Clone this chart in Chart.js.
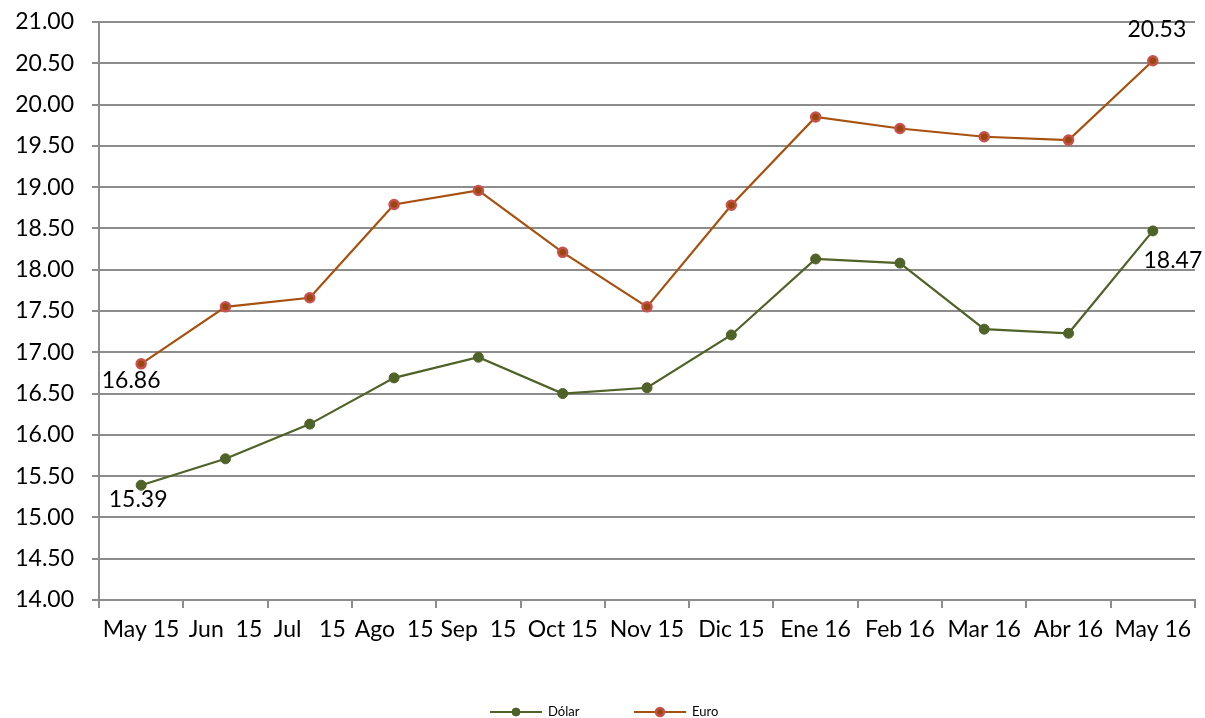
<!DOCTYPE html>
<html>
<head>
<meta charset="utf-8">
<script src="https://cdn.jsdelivr.net/npm/chart.js@4/dist/chart.umd.min.js"></script>
<style>
    html, body { margin: 0; padding: 0; background: #fff; }
    #wrap { width: 1205px; height: 718px; position: relative; }
</style>
</head>
<body>
<div id="wrap"><canvas id="fxChart"></canvas></div>
<script>
// Categories (x axis)
const months = ['May 15', 'Jun  15', 'Jul   15', 'Ago  15', 'Sep  15', 'Oct 15', 'Nov 15',
    'Dic 15', 'Ene 16', 'Feb 16', 'Mar 16', 'Abr 16', 'May 16'];

// Series values
const dolar = [15.39, 15.71, 16.13, 16.69, 16.94, 16.50, 16.57, 17.21, 18.13, 18.08, 17.28, 17.23, 18.47];
const euro = [16.86, 17.55, 17.66, 18.79, 18.96, 18.21, 17.55, 18.78, 19.85, 19.71, 19.61, 19.57, 20.53];

// Y axis range
const yMin = 14;
const yMax = 21;
const yStep = 0.5;

const FONT = 'Lato, "Open Sans", sans-serif';

// Data labels on first and last points only
const endLabels = {
    id: 'endLabels',
    afterDatasetsDraw(chart) {
        const ctx = chart.ctx;
        ctx.save();
        ctx.font = '23px ' + FONT;
        ctx.fillStyle = '#000';
        ctx.textAlign = 'center';
        ctx.textBaseline = 'middle';
        // [dataset, index, dx, dy]
        const spots = [[0, 0, -3, 14], [0, 12, 20, 30], [1, 0, -10, 17], [1, 12, 4, -31]];
        spots.forEach(([ds, i, dx, dy]) => {
            const pt = chart.getDatasetMeta(ds).data[i];
            const v = chart.data.datasets[ds].data[i];
            ctx.fillText(v.toFixed(2), pt.x + dx, pt.y + dy);
        });
        ctx.restore();
    }
};

// Excel style legend: line with marker, centered at bottom
const bottomLegend = {
    id: 'bottomLegend',
    afterDraw(chart) {
        const ctx = chart.ctx;
        const y = 712;
        const items = [[0, 490], [1, 634]];
        ctx.save();
        ctx.font = '13px ' + FONT;
        ctx.textBaseline = 'middle';
        items.forEach(([ds, x]) => {
            const d = chart.data.datasets[ds];
            ctx.strokeStyle = d.borderColor;
            ctx.lineWidth = 2;
            ctx.beginPath();
            ctx.moveTo(x, y);
            ctx.lineTo(x + 52, y);
            ctx.stroke();
            ctx.beginPath();
            ctx.arc(x + 26, y, 4, 0, Math.PI * 2);
            ctx.fillStyle = d.pointBackgroundColor;
            ctx.fill();
            ctx.lineWidth = d.pointBorderWidth;
            ctx.strokeStyle = d.pointBorderColor;
            ctx.stroke();
            ctx.fillStyle = '#000';
            ctx.fillText(d.label, x + 58, y);
        });
        ctx.restore();
    }
};

const ctx = document.getElementById('fxChart').getContext('2d');
new Chart(ctx, {
    type: 'line',
    data: {
        labels: months,
        datasets: [
            {
                label: 'Dólar',
                data: dolar,
                borderColor: '#4F6228',
                borderWidth: 2.2,
                pointRadius: 5,
                pointBackgroundColor: '#4F6228',
                pointBorderColor: '#4F6228',
                pointBorderWidth: 1,
                tension: 0
            },
            {
                label: 'Euro',
                data: euro,
                borderColor: '#A8500E',
                borderWidth: 2.2,
                pointRadius: 4.5,
                pointBackgroundColor: '#98480F',
                pointBorderColor: '#C8504D',
                pointBorderWidth: 2.5,
                tension: 0
            }
        ]
    },
    options: {
        responsive: true,
        maintainAspectRatio: false,
        animation: false,
        layout: { padding: { top: 22, right: 10, bottom: 0, left: 0 } },
        plugins: {
            legend: { display: false },
            tooltip: { enabled: false }
        },
        scales: {
            x: {
                offset: true,
                grid: {
                    offset: true,
                    drawOnChartArea: false,
                    drawTicks: true,
                    tickLength: 8,
                    color: '#8c8c8c',
                    lineWidth: 2
                },
                border: { color: '#8c8c8c', width: 2 },
                ticks: {
                    color: '#000',
                    font: { family: FONT, size: 23 },
                    maxRotation: 0,
                    autoSkip: false,
                    padding: 8
                },
                afterFit(scale) {
                    scale.height = 118;
                    scale.paddingLeft = 0;
                    scale.paddingRight = 0;
                }
            },
            y: {
                min: yMin,
                max: yMax,
                grid: {
                    color: '#8c8c8c',
                    lineWidth: 2,
                    tickLength: 7
                },
                border: { color: '#8c8c8c', width: 2 },
                ticks: {
                    stepSize: yStep,
                    color: '#000',
                    font: { family: FONT, size: 23 },
                    padding: 18,
                    callback: v => v.toFixed(2)
                },
                afterFit(scale) {
                    scale.width = 99;
                    scale.paddingTop = 0;
                    scale.paddingBottom = 0;
                }
            }
        }
    },
    plugins: [endLabels, bottomLegend]
});
</script>
</body>
</html>
